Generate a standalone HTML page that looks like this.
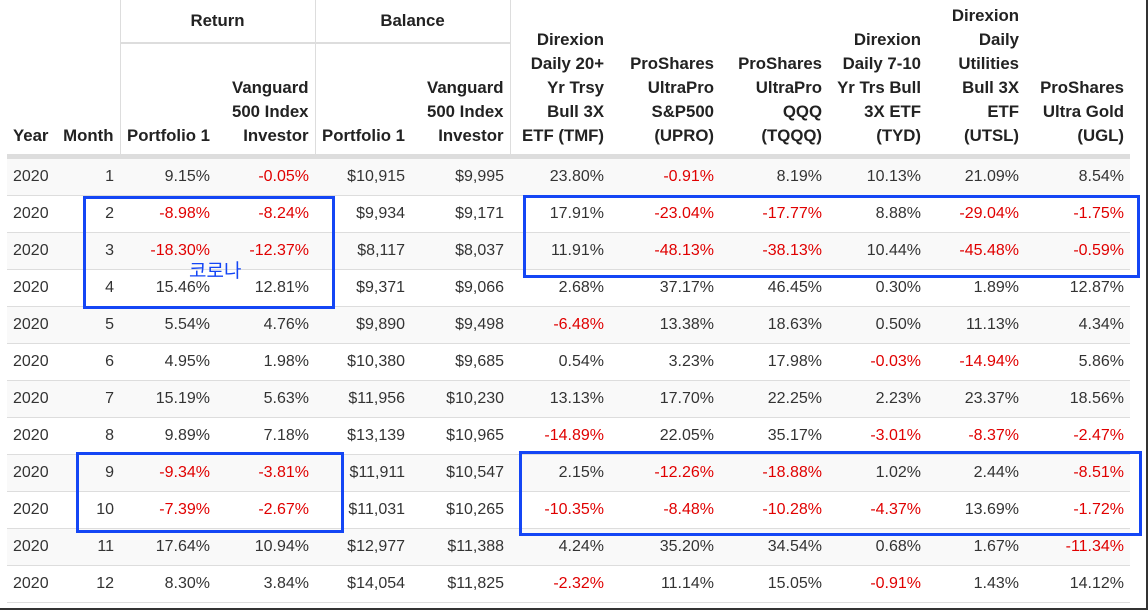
<!DOCTYPE html>
<html><head><meta charset="utf-8"><style>
body{margin:0;width:1148px;height:610px;background:#fff;position:relative;overflow:hidden;font-family:"Liberation Sans",Arial,sans-serif;color:#333}
#frame{position:absolute;left:0;top:0;width:1146px;height:608px;border-right:2px solid #333;border-bottom:2px solid #333}
table{position:absolute;left:7px;top:0;width:1123px;border-collapse:collapse;table-layout:fixed;font-size:16px;font-family:"Liberation Sans",Arial,sans-serif}
th{font-weight:700;font-size:16.8px;color:#222;text-align:right;padding:0 6px 6px 6px;line-height:24px;vertical-align:bottom;border-bottom:5px solid #ddd;white-space:normal}
th.grp{text-align:center;vertical-align:middle;padding:0;height:42px;border-bottom:2px solid #ddd}
th.vl{border-left:1px solid #ddd}
tr.hb th{height:104px}
td{height:36px;padding:0 6px;text-align:right;border-bottom:1px solid #ddd;line-height:36px}
td:first-child{text-align:left}
tbody tr:nth-child(odd) td{background:#f9f9f9}
.n{color:#e00000}
.box{position:absolute;border:3px solid #1446f5;box-sizing:border-box}
#kor{position:absolute;left:189px;top:256px;font-size:19px;color:#1446f5;font-family:"Liberation Sans","Noto Sans CJK KR",sans-serif}
</style></head><body>
<div id="frame"></div>
<table>
<colgroup><col style="width:53px"><col style="width:60px"><col style="width:96px"><col style="width:99px"><col style="width:96px"><col style="width:99px"><col style="width:100px"><col style="width:110px"><col style="width:108px"><col style="width:99px"><col style="width:98px"><col style="width:105px"></colgroup>
<thead>
<tr><th rowspan="2" style="text-align:left">Year</th><th rowspan="2" style="padding-left:0;white-space:nowrap">Month</th>
<th colspan="2" class="grp vl">Return</th>
<th colspan="2" class="grp vl">Balance</th>
<th rowspan="2" class="vl">Direxion Daily 20+ Yr Trsy Bull 3X ETF (TMF)</th>
<th rowspan="2">ProShares UltraPro S&amp;P500 (UPRO)</th>
<th rowspan="2">ProShares UltraPro QQQ (TQQQ)</th>
<th rowspan="2">Direxion Daily 7-10 Yr Trs Bull 3X ETF (TYD)</th>
<th rowspan="2">Direxion Daily Utilities Bull 3X ETF (UTSL)</th>
<th rowspan="2">ProShares Ultra Gold (UGL)</th></tr>
<tr class="hb"><th class="vl" style="white-space:nowrap">Portfolio 1</th><th>Vanguard 500 Index Investor</th><th class="vl" style="white-space:nowrap">Portfolio 1</th><th>Vanguard 500 Index Investor</th></tr>
</thead>
<tbody id="tb"></tbody>
</table>
<div class="box" style="left:83px;top:196px;width:252px;height:113px"></div>
<div class="box" style="left:523px;top:195px;width:617px;height:83px"></div>
<div class="box" style="left:76px;top:452px;width:268px;height:81px"></div>
<div class="box" style="left:519px;top:451px;width:623px;height:85px"></div>
<div id="kor">코로나</div>
<script>
const rows=[
["2020","1","9.15%","-0.05%","$10,915","$9,995","23.80%","-0.91%","8.19%","10.13%","21.09%","8.54%"],
["2020","2","-8.98%","-8.24%","$9,934","$9,171","17.91%","-23.04%","-17.77%","8.88%","-29.04%","-1.75%"],
["2020","3","-18.30%","-12.37%","$8,117","$8,037","11.91%","-48.13%","-38.13%","10.44%","-45.48%","-0.59%"],
["2020","4","15.46%","12.81%","$9,371","$9,066","2.68%","37.17%","46.45%","0.30%","1.89%","12.87%"],
["2020","5","5.54%","4.76%","$9,890","$9,498","-6.48%","13.38%","18.63%","0.50%","11.13%","4.34%"],
["2020","6","4.95%","1.98%","$10,380","$9,685","0.54%","3.23%","17.98%","-0.03%","-14.94%","5.86%"],
["2020","7","15.19%","5.63%","$11,956","$10,230","13.13%","17.70%","22.25%","2.23%","23.37%","18.56%"],
["2020","8","9.89%","7.18%","$13,139","$10,965","-14.89%","22.05%","35.17%","-3.01%","-8.37%","-2.47%"],
["2020","9","-9.34%","-3.81%","$11,911","$10,547","2.15%","-12.26%","-18.88%","1.02%","2.44%","-8.51%"],
["2020","10","-7.39%","-2.67%","$11,031","$10,265","-10.35%","-8.48%","-10.28%","-4.37%","13.69%","-1.72%"],
["2020","11","17.64%","10.94%","$12,977","$11,388","4.24%","35.20%","34.54%","0.68%","1.67%","-11.34%"],
["2020","12","8.30%","3.84%","$14,054","$11,825","-2.32%","11.14%","15.05%","-0.91%","1.43%","14.12%"]];
const tb=document.getElementById('tb');
rows.forEach((r,i)=>{const tr=document.createElement('tr');


r.forEach((v,j)=>{const td=document.createElement('td');td.textContent=v;if(v.startsWith('-'))td.className='n';


tr.appendChild(td);});tb.appendChild(tr);});
</script>
</body></html>
